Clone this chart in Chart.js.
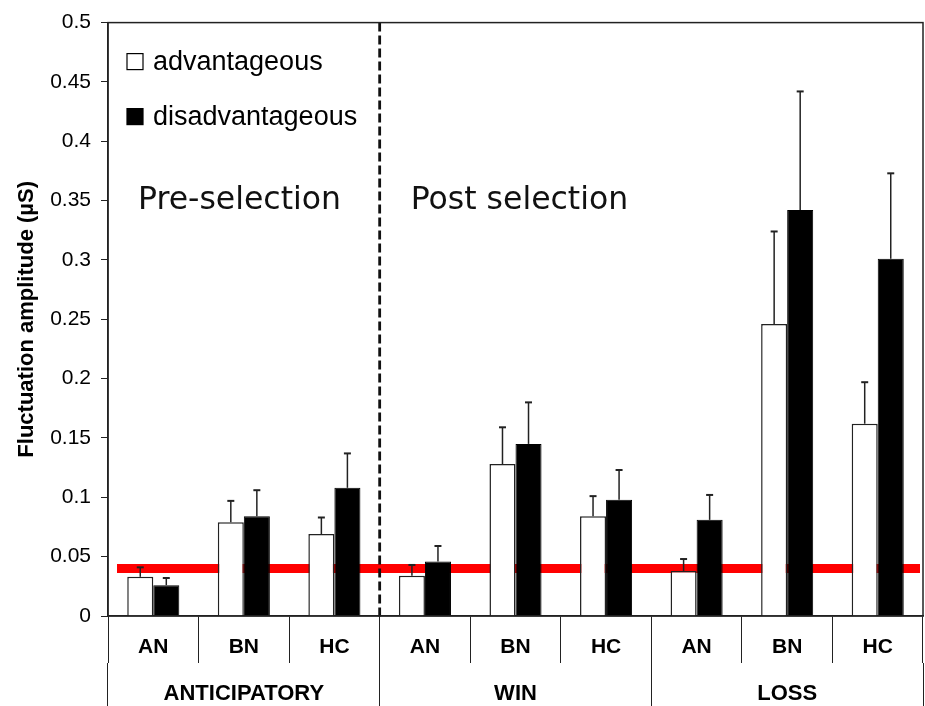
<!DOCTYPE html>
<html>
<head>
<meta charset="utf-8">
<title>Fluctuation amplitude</title>
<script src="https://cdn.jsdelivr.net/npm/chart.js@4.4.1/dist/chart.umd.min.js"></script>
<style>
  body { margin: 0; background: #fff; }
  canvas { display: block; }
</style>
</head>
<body>
<canvas id="barChart" width="925" height="706"></canvas>
<script>
// values
const categories = ["AN", "BN", "HC", "AN", "BN", "HC", "AN", "BN", "HC"];
const groups = ["ANTICIPATORY", "WIN", "LOSS"];
const advantageous = [0.033, 0.079, 0.069, 0.034, 0.128, 0.084, 0.038, 0.246, 0.162];
const advantageousErr = [0.008, 0.018, 0.014, 0.009, 0.031, 0.017, 0.010, 0.078, 0.035];
const disadvantageous = [0.026, 0.084, 0.108, 0.046, 0.145, 0.098, 0.081, 0.342, 0.301];
const disadvantageousErr = [0.006, 0.022, 0.029, 0.013, 0.035, 0.025, 0.021, 0.100, 0.072];
const baselineLevel = 0.04;
const phases = ["Pre-selection", "Post selection"];
const yMin = 0;
const yMax = 0.5;
const yStep = 0.05;

const errors = [advantageousErr, disadvantageousErr];

// red reference line behind the bars, dashed phase separator on top
const backgroundLines = {
  id: "backgroundLines",
  beforeDatasetsDraw(chart) {
    const { ctx, chartArea, scales } = chart;
    const y = scales.y.getPixelForValue(baselineLevel);
    ctx.save();
    ctx.strokeStyle = "#ff0000";
    ctx.lineWidth = 9;
    ctx.beginPath();
    ctx.moveTo(chartArea.left + 9, y);
    ctx.lineTo(chartArea.right - 3, y);
    ctx.stroke();
    ctx.restore();
  },
  afterDatasetsDraw(chart) {
    const { ctx, chartArea, scales } = chart;
    const x = (scales.x.getPixelForValue(2) + scales.x.getPixelForValue(3)) / 2;
    ctx.save();
    ctx.strokeStyle = "#111";
    ctx.lineWidth = 2.8;
    ctx.setLineDash([9, 4]);
    ctx.beginPath();
    ctx.moveTo(x, chartArea.top);
    ctx.lineTo(x, chartArea.bottom + 3);
    ctx.stroke();
    ctx.restore();
  },
};

// upper error bars only
const errorBars = {
  id: "errorBars",
  afterDatasetsDraw(chart) {
    const { ctx, scales } = chart;
    ctx.save();
    ctx.strokeStyle = "#222";
    chart.data.datasets.forEach((ds, i) => {
      const meta = chart.getDatasetMeta(i);
      meta.data.forEach((bar, j) => {
        const top = scales.y.getPixelForValue(ds.data[j] + errors[i][j]);
        ctx.lineWidth = 1.5;
        ctx.beginPath();
        ctx.moveTo(bar.x, bar.y);
        ctx.lineTo(bar.x, top);
        ctx.stroke();
        ctx.lineWidth = 2;
        ctx.beginPath();
        ctx.moveTo(bar.x - 3.5, top);
        ctx.lineTo(bar.x + 3.5, top);
        ctx.stroke();
      });
    });
    ctx.restore();
  },
};

// frame, legend inside the plot and the two phase captions
const decorations = {
  id: "decorations",
  afterDraw(chart) {
    const { ctx, chartArea, scales } = chart;
    ctx.save();
    ctx.strokeStyle = "#222";
    ctx.lineWidth = 1.5;
    ctx.strokeRect(chartArea.left, chartArea.top, chartArea.right - chartArea.left, chartArea.bottom - chartArea.top);

    ctx.font = "27px 'Liberation Sans', Arial, sans-serif";
    ctx.textBaseline = "alphabetic";
    chart.data.datasets.forEach((ds, i) => {
      const bx = chartArea.left + 19;
      const by = chartArea.top + 31 + i * 55;
      ctx.fillStyle = ds.backgroundColor;
      ctx.fillRect(bx, by, 16, 16);
      ctx.lineWidth = 1.2;
      ctx.strokeStyle = "#000";
      ctx.strokeRect(bx, by, 16, 16);
      ctx.fillStyle = "#000";
      ctx.fillText(ds.label, bx + 26, by + 16);
    });

    const sep = (scales.x.getPixelForValue(2) + scales.x.getPixelForValue(3)) / 2;
    ctx.font = "31.5px 'DejaVu Sans', Verdana, sans-serif";
    ctx.fillStyle = "#111";
    ctx.fillText(phases[0], chartArea.left + 30, chartArea.top + 186);
    ctx.fillText(phases[1], sep + 31, chartArea.top + 186);
    ctx.restore();
  },
};

Chart.defaults.font.family = "'Liberation Sans', Arial, sans-serif";
Chart.defaults.color = "#000";

const ctx = document.getElementById("barChart");
new Chart(ctx, {
  type: "bar",
  data: {
    labels: categories,
    datasets: [
      {
        label: "advantageous",
        data: advantageous,
        backgroundColor: "#ffffff",
        borderColor: "#222",
        borderWidth: 1.5,
      },
      {
        label: "disadvantageous",
        data: disadvantageous,
        backgroundColor: "#000000",
        borderColor: "#000",
        borderWidth: 1,
      },
    ],
  },
  options: {
    responsive: false,
    animation: false,
    layout: { padding: { top: 16, right: 2, left: 0, bottom: 0 } },
    datasets: {
      bar: { categoryPercentage: 0.575, barPercentage: 1 },
    },
    plugins: {
      legend: { display: false },
      tooltip: { enabled: false },
    },
    scales: {
      x: {
        position: "bottom",
        grid: { drawOnChartArea: false, tickLength: 47, color: "#222", lineWidth: 1 },
        border: { color: "#222", width: 1.5 },
        ticks: {
          font: { size: 21, weight: "bold" },
          padding: -28.6,
          maxRotation: 0,
          autoSkip: false,
        },
        afterFit(scale) {
          scale.height = 47;
        },
      },
      x2: {
        type: "category",
        position: "bottom",
        labels: groups,
        offset: true,
        grid: { offset: true, drawOnChartArea: false, tickLength: 43, color: "#222", lineWidth: 1 },
        border: { display: false },
        ticks: {
          font: { size: 22, weight: "bold" },
          padding: -25,
          maxRotation: 0,
          autoSkip: false,
        },
        afterFit(scale) {
          scale.height = 43;
        },
      },
      y: {
        min: yMin,
        max: yMax,
        ticks: {
          stepSize: yStep,
          font: { size: 21 },
          padding: 10,
          callback: (v) => String(+v.toFixed(2)),
        },
        grid: { drawOnChartArea: false, tickLength: 7, color: "#222" },
        border: { color: "#222", width: 1.5 },
        title: {
          display: true,
          text: "Fluctuation amplitude (µS)",
          font: { size: 22, weight: "bold" },
          padding: { top: 14 },
        },
        afterFit(scale) {
          scale.width = 108;
        },
      },
    },
  },
  plugins: [backgroundLines, errorBars, decorations],
});
</script>
</body>
</html>
